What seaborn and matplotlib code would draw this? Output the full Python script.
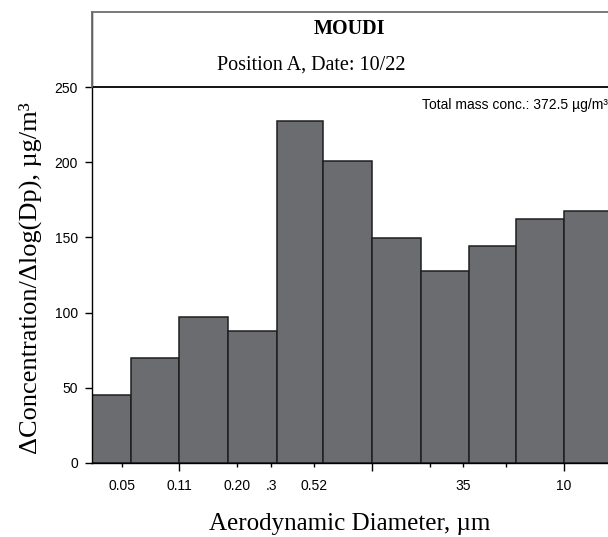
import numpy as np
import pandas as pd
import matplotlib
matplotlib.use("Agg")
import matplotlib.pyplot as plt
import seaborn as sns

# ---- data ----
bin_edges = [0.032, 0.056, 0.1, 0.18, 0.32, 0.56, 1.0, 1.8, 3.2, 5.6, 10.0, 18.0]
conc = [45, 70, 97, 88, 227.5, 201, 149.5, 127.5, 144.5, 162, 167.5]
major_ticks = [0.1, 1.0, 10.0]
major_labels = ["0.11", "", "10"]
minor_ticks = [0.05, 0.2, 0.3, 0.5, 2.0, 3.0, 5.0]
minor_labels = ["0.05", "0.20", ".3", "0.52", "", "35", ""]
y_ticks = [0, 50, 100, 150, 200, 250]
title = "MOUDI"
subtitle = "Position A, Date: 10/22"
total_text = "Total mass conc.: 372.5 \u00b5g/m\u00b3"

edges = np.array(bin_edges)
centers = np.sqrt(edges[:-1] * edges[1:])
df = pd.DataFrame({"dp": centers, "conc": conc})

sns.set_style("ticks")
plt.rcParams["font.family"] = ["Liberation Sans", "DejaVu Sans"]
plt.rcParams["text.color"] = "black"
plt.rcParams["axes.labelcolor"] = "black"
plt.rcParams["xtick.color"] = "black"
plt.rcParams["ytick.color"] = "black"

fig = plt.figure(figsize=(6.08, 5.37), dpi=100)
W, H = 608, 537
left, right, top, bottom = 92, 608, 12, 462.5
ax = fig.add_axes([left / W, 1 - bottom / H, (right - left) / W, (bottom - top) / H])

sns.histplot(data=df, x="dp", weights="conc", bins=[float(v) for v in np.log10(edges)],
             log_scale=True, stat="count", color="#6b6c70", alpha=1.0,
             edgecolor="#1e1e1e", linewidth=1.1, ax=ax)

ax.set_xlim(0.0351, 16.95)
ymax = (bottom - top) / 1.5
ax.set_ylim(0, ymax)

ax.set_xticks(major_ticks, labels=major_labels)
ax.set_xticks(minor_ticks, labels=minor_labels, minor=True)
ax.set_yticks(y_ticks, labels=[str(v) for v in y_ticks])
ax.tick_params(axis="x", which="major", length=6, width=1, direction="out", pad=6,
               labelsize=10, colors="black")
ax.tick_params(axis="x", which="minor", length=3, width=1, direction="out", pad=9,
               labelsize=10, colors="black")
ax.tick_params(axis="y", which="major", length=5, width=1, direction="out", pad=5,
               labelsize=10, colors="black")
ax.tick_params(axis="y", which="minor", left=False)

ax.axhline(250, color="black", lw=1.3, zorder=5)
ax.spines["right"].set_visible(False)
ax.spines["top"].set_color("#6e6e6e")
ax.spines["top"].set_linewidth(1.3)
ax.spines["left"].set_color("black")
ax.spines["left"].set_linewidth(1.0)
ax.spines["bottom"].set_color("black")
ax.spines["bottom"].set_linewidth(1.0)
ax.plot([0, 0], [250 / ymax, 1], transform=ax.transAxes, color="#6e6e6e",
        lw=1.3, clip_on=False, zorder=6)

ax.set_xlabel("Aerodynamic Diameter, \u00b5m", family=["Liberation Serif"],
              fontsize=18, labelpad=14, color="black")
ax.set_ylabel("\u0394Concentration/\u0394log(Dp), \u00b5g/m\u00b3",
              family=["Liberation Serif"], fontsize=19, color="black")
ax.yaxis.set_label_coords(-0.097, 123 / ymax)

ax.text((349 - left) / (right - left), 1 - (29 - top) / (bottom - top), title,
        transform=ax.transAxes, ha="center", va="center", fontsize=14.5,
        fontweight="bold", family=["Liberation Serif"], color="black")
ax.text((311 - left) / (right - left), 1 - (65 - top) / (bottom - top), subtitle,
        transform=ax.transAxes, ha="center", va="center", fontsize=14.5,
        family=["Liberation Serif"], color="black")
ax.text(1.0, 1 - (105 - top) / (bottom - top), total_text,
        transform=ax.transAxes, ha="right", va="center", fontsize=10, color="black")

fig.savefig("out.png", dpi=100)
